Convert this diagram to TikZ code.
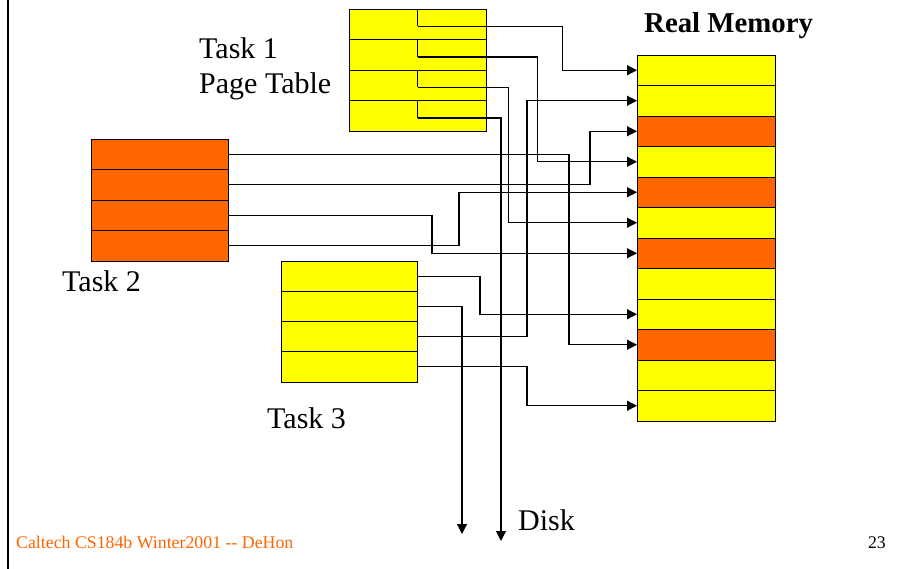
\documentclass[tikz,border=0pt]{standalone}
\usepackage{fontspec}
\setmainfont{Liberation Serif}
\usetikzlibrary{arrows.meta,calc}
\definecolor{memyel}{HTML}{FFFF00}
\definecolor{memorg}{HTML}{FF6600}
\begin{document}
\begin{tikzpicture}[x=1pt,y=-1pt,
  cell/.style={draw=black,line width=0.9pt,minimum width=137pt,minimum height=30.5pt,inner sep=0pt,outer sep=0pt,anchor=north west},
  link/.style={draw=black,line width=1.1pt},
  arr/.style={link,-{Triangle[length=10pt,width=10pt]}},
  lbl/.style={inner sep=0pt,anchor=base west,font=\fontsize{30}{35}\selectfont},
  small/.style={inner sep=0pt,font=\fontsize{17.8}{20}\selectfont},
]
\useasboundingbox (0,0) rectangle (912,569);
\fill[white] (0,0) rectangle (912,569);
\draw[line width=2.5pt] (8,0) -- (8,569);

% Real memory
\foreach \i/\c in {1/memyel,2/memyel,3/memorg,4/memyel,5/memorg,6/memyel,7/memorg,8/memyel,9/memyel,10/memorg,11/memyel,12/memyel}
  \node[cell,fill=\c,minimum width=138pt] (m\i) at (637,{55+30.5*(\i-1)}) {};

% Task tables
\foreach \i in {1,...,4} {
  \node[cell,fill=memyel] (t1r\i) at (349,{9+30.5*(\i-1)}) {};
  \node[cell,fill=memorg] (t2r\i) at (91,{139+30.5*(\i-1)}) {};
  \node[cell,fill=memyel,minimum width=136pt,minimum height=30.25pt] (t3r\i) at (281,{261+30.25*(\i-1)}) {};
}
\foreach \i in {1,...,4} {
  \coordinate (t1p\i) at ($(t1r\i.north)+(0,17.5)$);
  \draw[link] (t1r\i.north) -- (t1p\i);
}

\coordinate (disk1) at (501,541);
\coordinate (disk2) at (462,534);

% Task 1
\draw[arr] (t1p1) -- ++(145,0) |- (m1.west);
\draw[arr] (t1p2) -- ++(120,0) |- (m4.west);
\draw[arr] (t1p3) -- ++(91,0) |- (m6.west);
\draw[arr] (t1p4) -| (disk1);

% Task 2
\draw[arr] (t2r1.east) -- ++(341,0) |- (m10.west);
\draw[arr] (t2r2.east) -- ++(362,0) |- (m3.west);
\draw[arr] (t2r3.east) -- ++(204,0) |- (m7.west);
\draw[arr] (t2r4.east) -- ++(231,0) |- (m5.west);

% Task 3
\draw[arr] (t3r1.east) -- ++(63,0) |- (m9.west);
\draw[arr] (t3r2.east) -| (disk2);
\draw[arr] (t3r3.east) -- ++(110,0) |- (m2.west);
\draw[arr] (t3r4.east) -- ++(110,0) |- (m12.west);

% Labels
\node[lbl] (t1a) at (199,59) {Task 1};
\node[lbl] (t1b) at (199,94) {Page Table};
\node[lbl] (t2l) at (62,291) {Task 2};
\node[lbl] (t3l) at (267,428) {Task 3};
\node[lbl] (disk) at (518,530) {Disk};
\node[inner sep=0pt,anchor=base west,font=\fontsize{28.8}{32}\selectfont\bfseries] (rm) at (644,33) {Real Memory};
\node[small,anchor=base west,text=memorg] (foot) at (16,548) {Caltech CS184b Winter2001 -{}- DeHon};
\node[small,anchor=base east] (pg) at (886,548) {23};
\end{tikzpicture}
\end{document}
